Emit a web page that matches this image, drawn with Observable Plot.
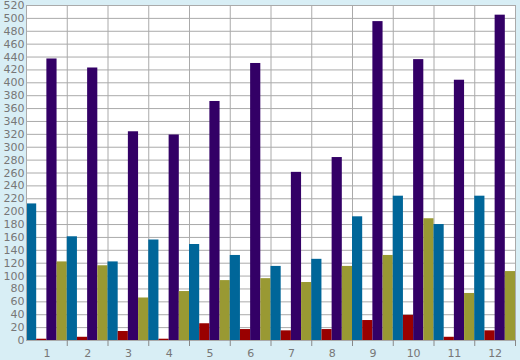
<!DOCTYPE html>
<html>
<head>
<meta charset="utf-8">
<script src="https://cdn.jsdelivr.net/npm/d3@7"></script>
<script src="https://cdn.jsdelivr.net/npm/@observablehq/plot@0.6"></script>
<style>
  html, body { margin: 0; padding: 0; background: #d8eef5; }
  #chart svg { display: block; background: #d8eef5; }
</style>
</head>
<body>
<div id="chart"></div>
<script>
const categories = [1, 2, 3, 4, 5, 6, 7, 8, 9, 10, 11, 12];
const seriesNames = ["A", "B", "C", "D"];
const seriesColors = ["#006699", "#990000", "#330066", "#999933"];
const valuesA = [212, 161, 122, 156, 149, 132, 115, 126, 192, 224, 180, 224];
const valuesB = [2, 5, 14, 2, 26, 17, 15, 17, 31, 39, 5, 15];
const valuesC = [437, 423, 324, 319, 371, 430, 261, 284, 495, 436, 404, 505];
const valuesD = [122, 116, 66, 76, 93, 96, 90, 115, 132, 189, 73, 107];
const yTicks = d3.range(0, 521, 20);

const allValues = [valuesA, valuesB, valuesC, valuesD];
const data = [];
categories.forEach((c, i) => {
  allValues.forEach((vals, s) => {
    data.push({cat: c, series: seriesNames[s], s, value: vals[i],
      x1: c - 0.5 + s * 0.25, x2: c - 0.5 + (s + 1) * 0.25});
  });
});
const boundaries = d3.range(1.5, 12.6, 1);

const chart = Plot.plot({
  width: 520,
  height: 360,
  marginLeft: 26,
  marginRight: 5,
  marginTop: 5,
  marginBottom: 20,
  style: {fontFamily: "DejaVu Sans", fontSize: "11px", color: "#777", background: "#d8eef5"},
  x: {domain: [0.5, 12.5]},
  y: {domain: [0, 520]},
  color: {domain: seriesNames, range: seriesColors},
  marks: [
    Plot.frame({fill: "white", stroke: null}),
    Plot.ruleY(yTicks, {stroke: "#aaa", strokeWidth: 1}),
    Plot.ruleX(boundaries.slice(0, -1), {stroke: "#aaa", strokeWidth: 1}),
    Plot.rectY(data, {x1: "x1", x2: "x2", y1: 0, y2: "value", fill: "series", inset: 0}),
    Plot.frame({stroke: "#aaa"}),
    Plot.axisY(yTicks, {tickSize: 0, tickPadding: 2, label: null, fill: "#777"}),
    Plot.axisX(categories, {tickSize: 0, tickPadding: 9, label: null, fill: "#777"}),
    Plot.axisX(boundaries, {tickSize: 6, text: null, label: null, stroke: "#888"})
  ]
});
document.getElementById("chart").appendChild(chart);
</script>
</body>
</html>
